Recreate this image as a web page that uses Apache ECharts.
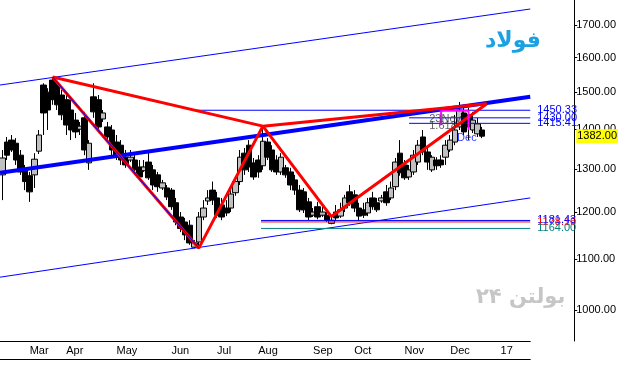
<!DOCTYPE html>
<html><head><meta charset="utf-8">
<script src="https://cdn.jsdelivr.net/npm/echarts@6/dist/echarts.min.js"></script>
<style>html,body{margin:0;padding:0;background:#fff}#c{width:619px;height:372px}</style>
</head><body><div id="c"></div>
<script>
// ---- categories (trading bars per month, 2016 -> Jan 2017) ----
const monthNames = ['Feb','Mar','Apr','May','Jun','Jul','Aug','Sep','Oct','Nov','Dec','17'];
const barsPerMonth = [6,8,11,12,10,9,12,9,11,10,11,7];

// ---- OHLC values ----
const opens  = [1286,1367,1372,1364,1334,1298,1284,1286,1344,1520,1500,1534,1520,1492,1479,1451,1424,1400,1430,1315,
                1487,1479,1427,1406,1398,1367,1359,1329,1322,1322,1305,1296,1317,1298,1286,1255,1255,1250,1221,1189,
                1178,1171,1124,1135,1189,1225,1250,1232,1216,1209,1209,1244,1270,1339,1359,1315,1322,1308,1367,1347,
                1322,1293,1303,1293,1274,1250,1246,1223,1193,1212,1193,1193,1175,1200,1191,1209,1246,1239,1209,1205,
                1198,1232,1221,1225,1246,1232,1258,1339,1310,1281,1293,1317,1380,1342,1298,1322,1322,1329,1347,1367,
                1406,1443,1438,1398,1388,1398];
const closes = [1327,1334,1347,1322,1293,1270,1246,1324,1385,1443,1451,1479,1465,1438,1411,1398,1393,1408,1347,1364,
                1446,1406,1443,1380,1347,1329,1322,1310,1329,1298,1281,1305,1279,1262,1258,1267,1234,1212,1178,1164,
                1150,1133,1133,1189,1209,1232,1227,1193,1189,1198,1241,1270,1329,1298,1305,1281,1293,1369,1329,1298,
                1293,1329,1286,1262,1250,1205,1205,1189,1200,1189,1200,1182,1182,1187,1205,1232,1221,1209,1191,1193,
                1221,1212,1205,1232,1221,1255,1317,1291,1279,1298,1334,1359,1342,1317,1329,1308,1310,1359,1372,1398,
                1451,1393,1406,1424,1414,1382];
const lows   = [1227,1322,1342,1310,1286,1250,1223,1255,1337,1385,1398,1465,1451,1424,1385,1372,1377,1385,1334,1298,
                1430,1398,1419,1372,1334,1322,1310,1303,1317,1286,1274,1293,1274,1250,1246,1250,1227,1205,1171,1156,
                1139,1129,1122,1124,1182,1216,1216,1187,1182,1191,1200,1237,1262,1286,1293,1274,1279,1298,1322,1293,
                1286,1286,1279,1250,1239,1200,1198,1182,1189,1184,1189,1178,1173,1180,1187,1200,1214,1200,1182,1187,
                1191,1205,1200,1221,1214,1227,1250,1284,1274,1274,1286,1310,1334,1298,1293,1298,1303,1310,1342,1359,
                1398,1385,1372,1390,1380,1377];
const highs  = [1347,1380,1385,1377,1347,1310,1293,1339,1398,1525,1511,1543,1534,1506,1492,1479,1443,1419,1446,1372,
                1525,1492,1451,1419,1411,1385,1372,1347,1347,1334,1322,1322,1342,1310,1293,1274,1262,1255,1232,1200,
                1187,1182,1139,1200,1227,1250,1270,1246,1232,1227,1255,1279,1347,1352,1372,1327,1334,1406,1377,1359,
                1334,1339,1310,1303,1286,1262,1255,1232,1209,1223,1212,1200,1189,1216,1221,1239,1262,1250,1221,1221,
                1232,1246,1232,1239,1262,1270,1327,1372,1322,1310,1347,1372,1398,1352,1334,1329,1334,1372,1385,1438,
                1473,1465,1457,1446,1430,1406];

// ---- y-axis tick labels ----
const priceTicks = [1000,1100,1200,1300,1400,1500,1600,1700];

// ---- drawn objects (bar index, price) ----
const harmonicPath = [[11,1543],[43,1122],[57,1408],[72,1190],[106,1468]];   // X-A-B-C-D
const harmonicSides = [[11,1543],[57,1408],[106,1468]];                       // X-B-D
const upperChannel = [[-0.5,1520],[115.5,1751]];
const midChannel   = [[-0.5,1291],[115.5,1487]];
const lowerChannel = [[-0.5,1063],[115.5,1232]];
const levelValues  = [1450.33,1430.00,1415.41,1181.43,1178.16,1164.00];
const levelStarts  = [42,89,89,56.6,56.6,56.6];
const bracket      = [[96,1411],[96,1449],[102,1449],[102,1398]];
const fibTexts     = ['23Nov','1.618','Dec'];
const fibAnchors   = [[93.4,1428],[93.4,1409],[99.5,1377]];

// ---- styles ----
const levelColors = ['#0000ff','#0000ff','#0000ff','#0000ff','#ff0000','#008080'];
const fibColors = ['#3a3a3a','#3a3a3a','#0000ff'];
const FONT = '"Liberation Sans Narrow","Liberation Sans",Arial,sans-serif';

const categories = [];
monthNames.forEach((m, mi) => { for (let k = 0; k < barsPerMonth[mi]; k++) categories.push(m + '|' + k); });
const isMonthStart = (idx, val) => /\|0$/.test(val) && !/^Feb/.test(val);
const candles = opens.map((o, i) => [o, closes[i], lows[i], highs[i]]);
const lastClose = closes[closes.length - 1];

const lineSeries = (data, color, width, z) => ({
  type: 'line', xAxisIndex: 1, yAxisIndex: 0, data, symbol: 'none', silent: true, z,
  lineStyle: { color, width }
});

const series = [
  {
    type: 'candlestick', data: candles, barWidth: 6, z: 2,
    itemStyle: { color: '#c0c0c0', color0: '#000000', borderColor: '#000000', borderColor0: '#000000', borderWidth: 1 }
  },
  lineSeries(upperChannel, '#0000ff', 1, 3),
  lineSeries(lowerChannel, '#0000ff', 1, 3),
  lineSeries(midChannel, '#0000ff', 4, 4),
  lineSeries(harmonicSides, '#ff0000', 3, 5),
  lineSeries(harmonicPath, '#ff0000', 3, 5),
  lineSeries(harmonicPath.slice(0, 2), '#0000ff', 1, 6),
  lineSeries(bracket, '#ff00ff', 2, 6),
];
levelValues.forEach((v, i) => {
  const s = lineSeries([[levelStarts[i], v], [115.5, v]], levelColors[i], 1, 3);
  s.endLabel = { show: true, distance: 7, formatter: () => v.toFixed(2), color: levelColors[i], fontSize: 11, fontFamily: FONT };
  series.push(s);
});
// last price tag on the price axis
const lastTag = lineSeries([[105, lastClose], [115.5, lastClose]], 'rgba(0,0,0,0)', 0, 8);
lastTag.endLabel = { show: true, distance: 46, formatter: () => lastClose.toFixed(2), color: '#000',
                     backgroundColor: '#ffff00', padding: [2, 1, 1, 1], fontSize: 11, fontFamily: FONT };
series.push(lastTag);
series.push({
  type: 'scatter', xAxisIndex: 1, yAxisIndex: 0, symbolSize: 0, silent: true, z: 7,
  data: fibTexts.map((t, i) => ({ value: fibAnchors[i], name: t,
    label: { show: true, position: 'right', distance: 0, formatter: t, color: fibColors[i], fontSize: 11, fontFamily: FONT } }))
});

const chart = echarts.init(document.getElementById('c'), null, { renderer: 'canvas' });
chart.setOption({
  animation: false,
  backgroundColor: '#ffffff',
  grid: { left: 0, right: 84, top: 0, bottom: 31, containLabel: false },
  xAxis: [
    { type: 'category', data: categories, boundaryGap: true,
      axisLine: { onZero: false, lineStyle: { color: '#000', width: 1 } },
      axisTick: { interval: isMonthStart, length: 4, lineStyle: { color: '#000' } },
      axisLabel: { interval: isMonthStart, formatter: v => v.split('|')[0], align: 'left', color: '#000',
                   fontSize: 11, fontFamily: FONT, margin: 4 },
      splitLine: { show: false } },
    { type: 'value', min: -0.5, max: 115.5, position: 'bottom', offset: 18,
      axisLine: { show: true, onZero: false, lineStyle: { color: '#000' } },
      axisTick: { show: false }, axisLabel: { show: false }, splitLine: { show: false } }
  ],
  yAxis: [{
    type: 'log', logBase: 10, min: 944, max: 1780.6, position: 'right', offset: 44,
    axisLine: { show: true, onZero: false, lineStyle: { color: '#000' } },
    axisTick: { show: true, length: 3, customValues: priceTicks, lineStyle: { color: '#000' } },
    axisLabel: { customValues: priceTicks, formatter: v => Number(v).toFixed(2), color: '#000',
                 fontSize: 11, fontFamily: FONT, margin: 2 },
    splitLine: { show: false }
  }],
  graphic: [
    { type: 'text', left: 485, top: 30, z: 1, style: { text: 'فولاد', fill: '#1ba1e2', font: 'bold 22px "DejaVu Sans", sans-serif' } },
    { type: 'text', left: 476, top: 287, z: 1, style: { text: 'بولتن ۲۴', fill: '#c6c6c6', font: 'bold 21px "DejaVu Sans", sans-serif' } }
  ],
  series
});
</script>
</body></html>
